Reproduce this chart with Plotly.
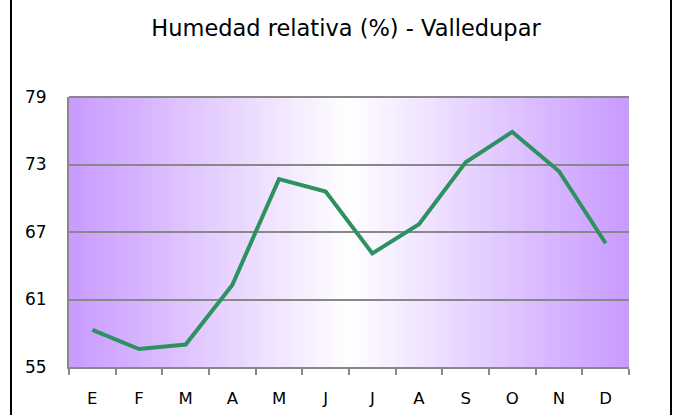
import plotly.graph_objects as go

months = ["E", "F", "M", "A", "M ", "J", "J ", "A ", "S", "O", "N", "D"]
month_labels = ["E", "F", "M", "A", "M", "J", "J", "A", "S", "O", "N", "D"]
humidity = [58.3, 56.6, 57.0, 62.3, 71.7, 70.6, 65.1, 67.7, 73.2, 75.9, 72.4, 66.0]
y_ticks = [55, 61, 67, 73, 79]

title_text = "Humedad relativa (%) - Valledupar"
purple = (200, 154, 255)
FONT = "DejaVu Sans"

fig = go.Figure()
fig.add_trace(go.Scatter(
    x=months, y=humidity, mode="lines",
    line=dict(color="#2E9160", width=4),
    hoverinfo="skip", showlegend=False,
))

# horizontal gradient background (purple edges, white centre)
shapes = []
N = 120
for i in range(N):
    x0 = i / N
    x1 = (i + 1) / N
    t = abs((x0 + x1) / 2 - 0.5) * 2
    r = round(255 + (purple[0] - 255) * t)
    g = round(255 + (purple[1] - 255) * t)
    b = round(255 + (purple[2] - 255) * t)
    shapes.append(dict(type="rect", xref="paper", yref="paper",
                       x0=x0, x1=min(x1 + 0.002, 1), y0=0, y1=1,
                       fillcolor=f"rgb({r},{g},{b})", line=dict(width=0),
                       layer="below"))

fig.update_layout(
    width=677, height=415,
    margin=dict(l=69, r=48, t=97, b=48),
    paper_bgcolor="white", plot_bgcolor="white",
    shapes=shapes,
    title=dict(text=title_text, x=346 / 677, xanchor="center", y=1 - 28 / 415, yanchor="middle",
               font=dict(family=FONT, size=22.5, color="#000000")),
    font=dict(family=FONT, color="#000000"),
    xaxis=dict(
        type="category", categoryorder="array", categoryarray=months,
        range=[-0.5, 11.5], automargin=False,
        tickmode="array", tickvals=months, ticktext=month_labels,
        tickson="boundaries", ticks="outside", ticklen=6, tickwidth=2, tickcolor="#888888",
        showline=True, linecolor="#888888", linewidth=2,
        showgrid=False, tickfont=dict(size=16.5), ticklabelstandoff=15,
        fixedrange=True,
    ),
    yaxis=dict(
        range=[55, 79], tickmode="array", tickvals=y_ticks, automargin=False,
        showline=True, linecolor="#888888", linewidth=2,
        showgrid=True, gridcolor="#888888", gridwidth=2,
        zeroline=False, ticks="", tickfont=dict(size=17), ticklabelstandoff=17,
        fixedrange=True,
    ),
)

# top border of plot area (gridline at 79)
fig.add_shape(type="line", xref="paper", yref="paper", x0=0, x1=1, y0=1, y1=1,
              line=dict(color="#888888", width=2), layer="above")

# frame side lines
plot_w = 677 - 69 - 48
for px in [11, 671]:
    xp = (px - 69) / plot_w
    fig.add_shape(type="line", xref="paper", yref="paper", x0=xp, x1=xp,
                  y0=-1, y1=2, line=dict(color="black", width=2), layer="above")

fig.write_html("out.html", config={"displayModeBar": False},
               post_script="document.body.style.margin='0';document.body.style.overflow='hidden';")
